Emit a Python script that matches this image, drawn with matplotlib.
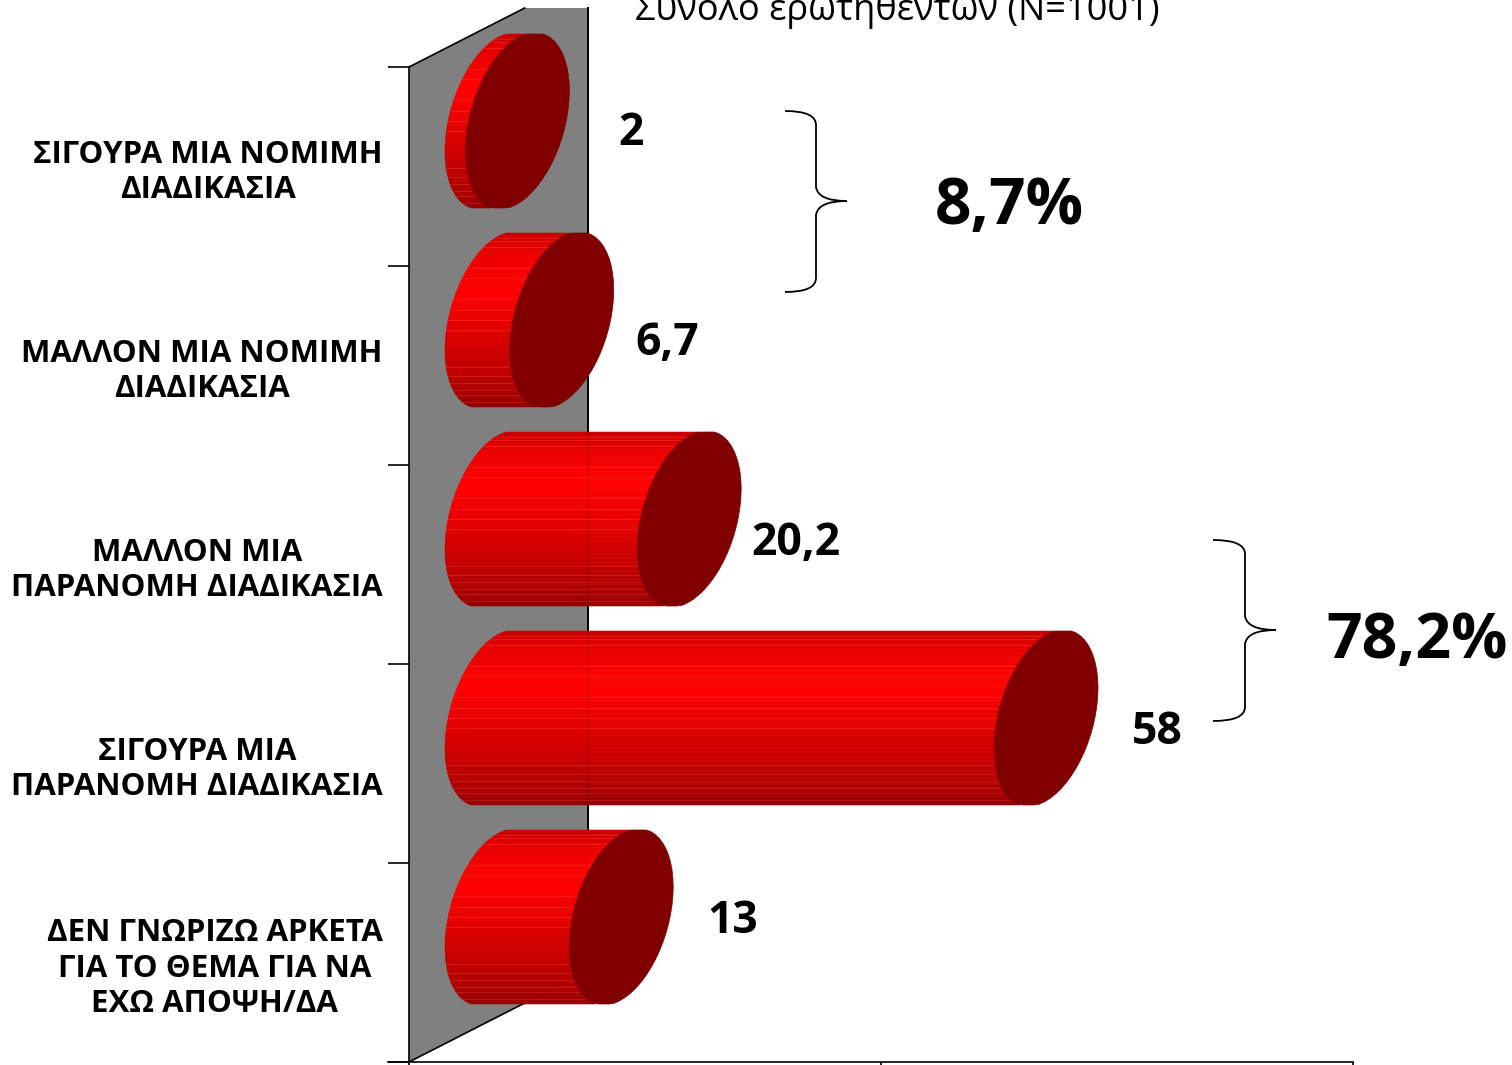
import numpy as np
import matplotlib
matplotlib.use("Agg")
import matplotlib.pyplot as plt
from matplotlib.patches import Polygon, PathPatch
from matplotlib.path import Path
from matplotlib.transforms import Affine2D

categories = ["ΣΙΓΟΥΡΑ ΜΙΑ ΝΟΜΙΜΗ\nΔΙΑΔΙΚΑΣΙΑ",
              "ΜΑΛΛΟΝ ΜΙΑ ΝΟΜΙΜΗ\nΔΙΑΔΙΚΑΣΙΑ",
              "ΜΑΛΛΟΝ ΜΙΑ\nΠΑΡΑΝΟΜΗ ΔΙΑΔΙΚΑΣΙΑ",
              "ΣΙΓΟΥΡΑ ΜΙΑ\nΠΑΡΑΝΟΜΗ ΔΙΑΔΙΚΑΣΙΑ",
              "ΔΕΝ ΓΝΩΡΙΖΩ ΑΡΚΕΤΑ\nΓΙΑ ΤΟ ΘΕΜΑ ΓΙΑ ΝΑ\nΕΧΩ ΑΠΟΨΗ/ΔΑ"]
values = [2, 6.7, 20.2, 58, 13]
value_labels = ["2", "6,7", "20,2", "58", "13"]
title = "Σύνολο ερωτηθέντων (N=1001)"
totals = ["8,7%", "78,2%"]

plt.rcParams['font.family'] = ['Open Sans', 'DejaVu Sans']

W, H = 1512, 1065
PX_X = 9.44   # pixels per value unit
PX_Y = 199.0  # pixels per category
X0, Y0 = 409, 166.5

fig = plt.figure(figsize=(W / 100, H / 100), dpi=100)
ax = fig.add_axes([0, 0, 1, 1])
ax.set_xlim(-X0 / PX_X, (W - X0) / PX_X)
ax.set_ylim((H - Y0) / PX_Y, -Y0 / PX_Y)
ax.patch.set_visible(False)

# screen-pixel transform for annotations
px = Affine2D().scale(1, -1).translate(0, H)

DX, DY = 89.5 / PX_X, -45.5 / PX_Y   # depth offset of the bars
A, B = 52 / PX_X, 87 / PX_Y          # half extents of end ellipse
PHI = np.radians(20)
FLAT = 1.015                         # ends are slightly flattened at top and bottom

# back wall
top_y = -Y0 / PX_Y + 8 / PX_Y
sl = 0.51 * PX_X / PX_Y
wall_w = 179 / PX_X
x_top = (-0.5 - top_y) / sl
wall = [(0, -0.5), (x_top, top_y), (wall_w, top_y), (wall_w, 4.5 - sl * wall_w), (0, 4.5)]
ax.add_patch(Polygon(wall, closed=True, fc="#808080", ec="none", zorder=1))
ax.plot([x_top, 0], [top_y, -0.5], color="k", lw=1.2, zorder=2)
ax.plot([wall_w, wall_w], [top_y, 4.5 - sl * wall_w], color="k", lw=1.4, zorder=2)
ax.plot([0, wall_w], [4.5, 4.5 - sl * wall_w], color="k", lw=1.2, zorder=2)

# gradient of the cylinder
stops_f = [0.0, 0.08, 0.22, 0.33, 0.48, 0.62, 0.76, 0.90, 1.0]
stops_r = [198, 228, 250, 255, 235, 216, 198, 175, 150]
n_strips = 40
edges = np.linspace(0, 1, n_strips + 1)
line_f = [.027, .046, .08, .2, .26, .38, .44, .5, .56, .77, .82, .86, .90, .93, .97]


def left_x(fr):
    """left boundary of the end ellipse at fraction fr from top, relative to centre"""
    s = np.clip((1 - 2 * fr) / FLAT, -1, 1)
    t = np.pi - np.arcsin(s) - PHI
    return A * np.cos(t) - 1.5 / PX_X


for i, v in enumerate(values):
    cx0, cy = DX, i + DY
    for k in range(n_strips):
        f0, f1 = edges[k], edges[k + 1]
        fs = np.linspace(f0, f1, 4)
        xl = left_x(fs) + cx0
        ys = cy - B + 2 * B * fs
        xr = xl + v + 1.5 / PX_X
        pts = list(zip(xl, ys)) + list(zip(xr[::-1], ys[::-1]))
        r = np.interp((f0 + f1) / 2, stops_f, stops_r) / 255
        ax.add_patch(Polygon(pts, closed=True, fc=(r, 0, 0), ec=(r, 0, 0), lw=0.4, zorder=3))
    for f in line_f:
        r = min(1, np.interp(f, stops_f, stops_r) / 255 + 0.10)
        g = 0.14
        xl = left_x(f) + cx0
        ax.plot([xl, xl + v], [cy - B + 2 * B * f] * 2, color=(r, g, g * .8), lw=0.5, zorder=3.2)
    if cx0 + v > wall_w + A:
        ax.plot([wall_w, wall_w], [cy - B, cy + B], color="k", lw=0.8, alpha=0.12, zorder=3.3)
    t = np.linspace(0, 2 * np.pi, 60)
    ex = cx0 + v + A * np.cos(t)
    ey = np.clip(cy - FLAT * B * np.sin(t + PHI), cy - B, cy + B)
    ax.add_patch(Polygon(np.column_stack([ex, ey]), closed=True, fc="#800000", ec="#800000",
                         lw=0.5, zorder=4))

# axes
for s in ["top", "right"]:
    ax.spines[s].set_visible(False)
ax.spines["left"].set_position(("data", 0))
ax.spines["left"].set_bounds(-0.5, 4.5)
ax.spines["bottom"].set_position(("data", 4.5))
ax.spines["bottom"].set_bounds(-21 / PX_X, 100)
for s in ["left", "bottom"]:
    ax.spines[s].set_linewidth(1.2)
    ax.spines[s].set_zorder(2)
ax.set_xticks([0, 50, 100], [])
ax.tick_params(axis="x", length=3, width=1.2, direction="out")
ax.set_yticks(np.arange(-0.5, 5, 1), [])
ax.tick_params(axis="y", which="major", length=15, width=1.2, direction="out")
ax.set_yticks(range(5), categories, minor=True)
ax.tick_params(axis="y", which="minor", length=0, pad=19)
for t in ax.get_yticklabels(minor=True):
    t.set_fontsize(22.5)
    t.set_fontweight("bold")
    t.set_multialignment("center")
    t.set_linespacing(1.22)

# value labels
lab_pos = [(631, 128), (667, 338), (796, 538), (1157, 727), (733, 916)]
for s, (x, y) in zip(value_labels, lab_pos):
    ax.text(x, y, s, transform=px, ha="center", va="center_baseline", fontsize=32,
            fontweight="bold", color="k", zorder=6)

# title (cut by the top edge)
ax.text(897, 20, title, transform=px, ha="center", va="baseline", fontsize=26, color="k",
        clip_on=False)

# group totals
ax.text(1009, 200, totals[0], transform=px, ha="center", va="center_baseline",
        fontsize=46, fontweight="bold")
ax.text(1417, 634, totals[1], transform=px, ha="center", va="center_baseline",
        fontsize=45, fontweight="bold")


def brace(x0, xm, xt, y0, ym, y1):
    r = 14
    verts = [(x0, y0), (xm, y0), (xm, y0 + r), (xm, ym - r), (xm + 2, ym), (xt, ym),
             (xm + 2, ym), (xm, ym + r), (xm, y1 - r), (xm, y1), (x0, y1)]
    codes = [Path.MOVETO, Path.CURVE3, Path.CURVE3, Path.LINETO, Path.CURVE3, Path.CURVE3,
             Path.CURVE3, Path.CURVE3, Path.LINETO, Path.CURVE3, Path.CURVE3]
    ax.add_patch(PathPatch(Path(verts, codes), fc="none", ec="k", lw=1.3, transform=px, zorder=5))


brace(785, 816, 847, 111, 201, 292)
brace(1213, 1245, 1276, 540, 630, 721)

fig.savefig("out.png", dpi=100)
